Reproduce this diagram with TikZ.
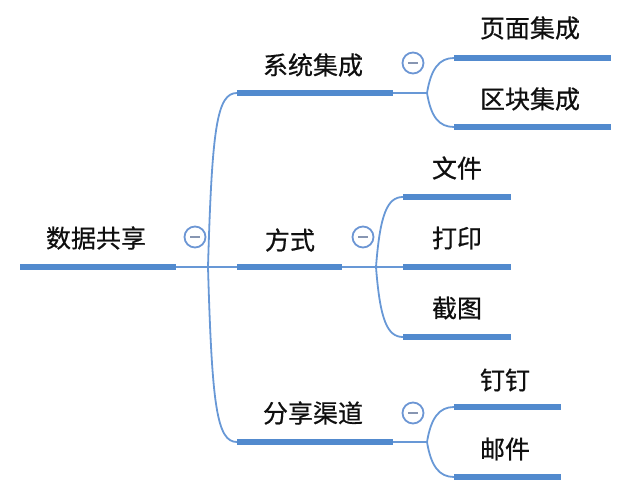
\documentclass[tikz,border=0pt]{standalone}
\usepackage{fontspec}
\setmainfont{Noto Sans CJK SC}[FakeBold=0.6]
\definecolor{thickblue}{RGB}{82,138,206}
\definecolor{thinblue}{RGB}{104,152,214}
\definecolor{circblue}{RGB}{108,150,212}
\definecolor{dashgrey}{RGB}{135,150,178}
\definecolor{txt}{RGB}{15,15,15}
\begin{document}
\begin{tikzpicture}[x=1pt,y=-1pt,
  topic/.style={line width=5.5pt, draw=thickblue},
  conn/.style={line width=1.8pt, draw=thinblue},
  lbl/.style={inner sep=0pt, text=txt, font=\fontsize{25}{28}\selectfont},
  collapse/.style={circle, draw=circblue, fill=white, line width=1.8pt, minimum size=21pt, inner sep=0pt,
    path picture={\draw[dashgrey, line width=2.4pt]
      ([xshift=-5pt]path picture bounding box.center) -- ([xshift=5pt]path picture bounding box.center);}}
]
\useasboundingbox (0,0) rectangle (632,492);
% coordinates
\coordinate (r0) at (20,267);  \coordinate (r1) at (176,267); \coordinate (rb) at (208,267);
\coordinate (a0) at (237,93);  \coordinate (a1) at (393,93);  \coordinate (ab) at (427,93);
\coordinate (b0) at (237,267); \coordinate (b1) at (342,267); \coordinate (bb) at (376,267);
\coordinate (c0) at (237,442); \coordinate (c1) at (393,442); \coordinate (cb) at (427,442);
\coordinate (a10) at (454,58);  \coordinate (a11) at (611,58);
\coordinate (a20) at (454,127); \coordinate (a21) at (611,127);
\coordinate (b10) at (403,197); \coordinate (b11) at (511,197);
\coordinate (b20) at (403,267); \coordinate (b21) at (511,267);
\coordinate (b30) at (403,337); \coordinate (b31) at (511,337);
\coordinate (c10) at (454,407); \coordinate (c11) at (561,407);
\coordinate (c20) at (454,477); \coordinate (c21) at (561,477);
% thin connectors
\draw[conn] (r1) -- (b0);
\draw[conn] (rb) .. controls +(4,-140) and +(-20,0) .. (a0);
\draw[conn] (rb) .. controls +(4,140) and +(-20,0) .. (c0);
\draw[conn] (a1) -- (ab);
\draw[conn] (ab) .. controls +(4,-24) and +(-15,0) .. (a10);
\draw[conn] (ab) .. controls +(4,24) and +(-15,0) .. (a20);
\draw[conn] (b1) -- (b20);
\draw[conn] (bb) .. controls +(4,-52) and +(-16,0) .. (b10);
\draw[conn] (bb) .. controls +(4,52) and +(-16,0) .. (b30);
\draw[conn] (c1) -- (cb);
\draw[conn] (cb) .. controls +(4,-24) and +(-15,0) .. (c10);
\draw[conn] (cb) .. controls +(4,24) and +(-15,0) .. (c20);
% topic underlines
\draw[topic] (r0) -- (r1);
\draw[topic] (a0) -- (a1);
\draw[topic] (b0) -- (b1);
\draw[topic] (c0) -- (c1);
\draw[topic] (a10) -- (a11);
\draw[topic] (a20) -- (a21);
\draw[topic] (b10) -- (b11);
\draw[topic] (b20) -- (b21);
\draw[topic] (b30) -- (b31);
\draw[topic] (c10) -- (c11);
\draw[topic] (c20) -- (c21);
% labels
\node[lbl] (root) at (96,238) {数据共享};
\node[lbl] (xt) at (313,65) {系统集成};
\node[lbl] (fs) at (290,240) {方式};
\node[lbl] (fx) at (313,413) {分享渠道};
\node[lbl] (ym) at (530,28) {页面集成};
\node[lbl] (qk) at (530,99) {区块集成};
\node[lbl] (wj) at (457,168) {文件};
\node[lbl] (dy) at (457,238) {打印};
\node[lbl] (jt) at (457,308) {截图};
\node[lbl] (dd) at (505,380) {钉钉};
\node[lbl] (yj) at (505,449) {邮件};
% collapse buttons
\node[collapse] (k0) at (195,237) {};
\node[collapse] (k1) at (413,63) {};
\node[collapse] (k2) at (363,237) {};
\node[collapse] (k3) at (413,413) {};
\end{tikzpicture}
\end{document}
